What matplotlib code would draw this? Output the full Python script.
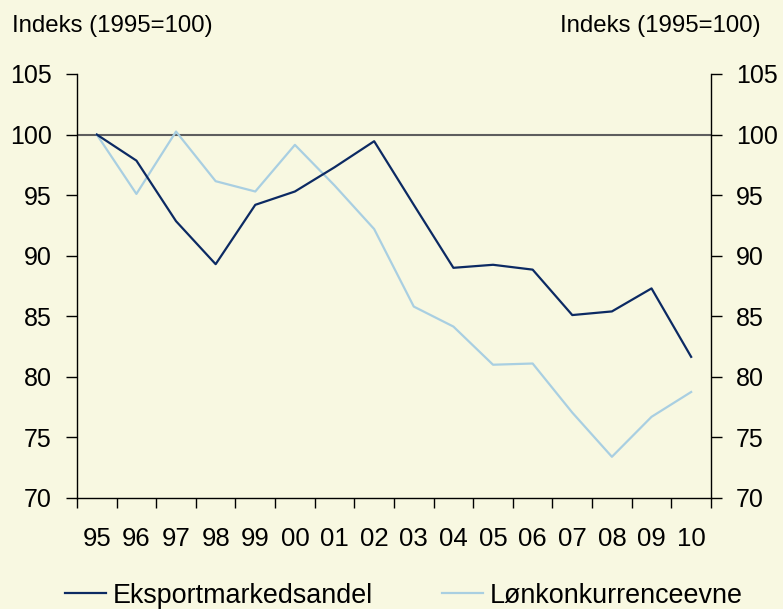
import numpy as np
import matplotlib.pyplot as plt

plt.rcParams['font.family'] = ['Liberation Sans', 'DejaVu Sans']

years = ["95", "96", "97", "98", "99", "00", "01", "02",
         "03", "04", "05", "06", "07", "08", "09", "10"]
eksport = [100, 97.85, 92.85, 89.3, 94.2, 95.3, 97.3, 99.45,
           94.2, 89.0, 89.25, 88.85, 85.1, 85.4, 87.3, 81.65]
lonkonk = [100, 95.1, 100.25, 96.15, 95.3, 99.15, 95.8, 92.2,
           85.8, 84.15, 81.0, 81.1, 77.05, 73.4, 76.7, 78.75]
yticks = [70, 75, 80, 85, 90, 95, 100, 105]

bg = "#f8f8e1"
navy = "#0c2a63"
light = "#a9cfe1"

fig = plt.figure(figsize=(7.83, 6.09), dpi=100, facecolor=bg)
ax = fig.add_axes([0.0983, 0.1823, 0.8097, 0.6962])
ax.set_facecolor(bg)

x = np.arange(len(years))
ax.axhline(100, color="#5e5e5e", lw=1.5, zorder=1)
ax.plot(x, eksport, color=navy, lw=1.6, label="Eksportmarkedsandel", zorder=3)
ax.plot(x, lonkonk, color=light, lw=1.6, label="Lønkonkurrenceevne", zorder=2)

ax.set_xlim(-0.5, len(years) - 0.5)
ax.set_ylim(70, 105)

ax.spines["top"].set_visible(False)
for s in ["left", "right", "bottom"]:
    ax.spines[s].set_color("black")
    ax.spines[s].set_linewidth(1.0)

ax.set_yticks(yticks)
ax.set_yticklabels([str(v) for v in yticks])
ax.tick_params(axis="y", which="both", left=True, right=True,
               labelleft=True, labelright=True, direction="out",
               length=8, width=1, labelsize=18, pad=10)

# category axis: tick marks between years, labels centred on each year
ax.set_xticks(np.arange(-0.5, len(years), 1.0))
ax.set_xticklabels([])
ax.set_xticks(x, minor=True)
ax.set_xticklabels(years, minor=True)
ax.tick_params(axis="x", which="major", direction="out", length=7, width=1)
ax.tick_params(axis="x", which="minor", length=0, labelsize=18.5, pad=21)

fig.text(0.015, 0.957, "Indeks (1995=100)", fontsize=17.3, ha="left", va="center")
fig.text(0.972, 0.957, "Indeks (1995=100)", fontsize=17.3, ha="right", va="center")

fig.legend(loc="center left", bbox_to_anchor=(0.083, 0.022), ncol=2,
           frameon=False, fontsize=19.4, handlelength=1.52, handletextpad=0.26,
           columnspacing=2.56, borderaxespad=0, borderpad=0)

fig.savefig("out.png", dpi=100, facecolor=bg)
